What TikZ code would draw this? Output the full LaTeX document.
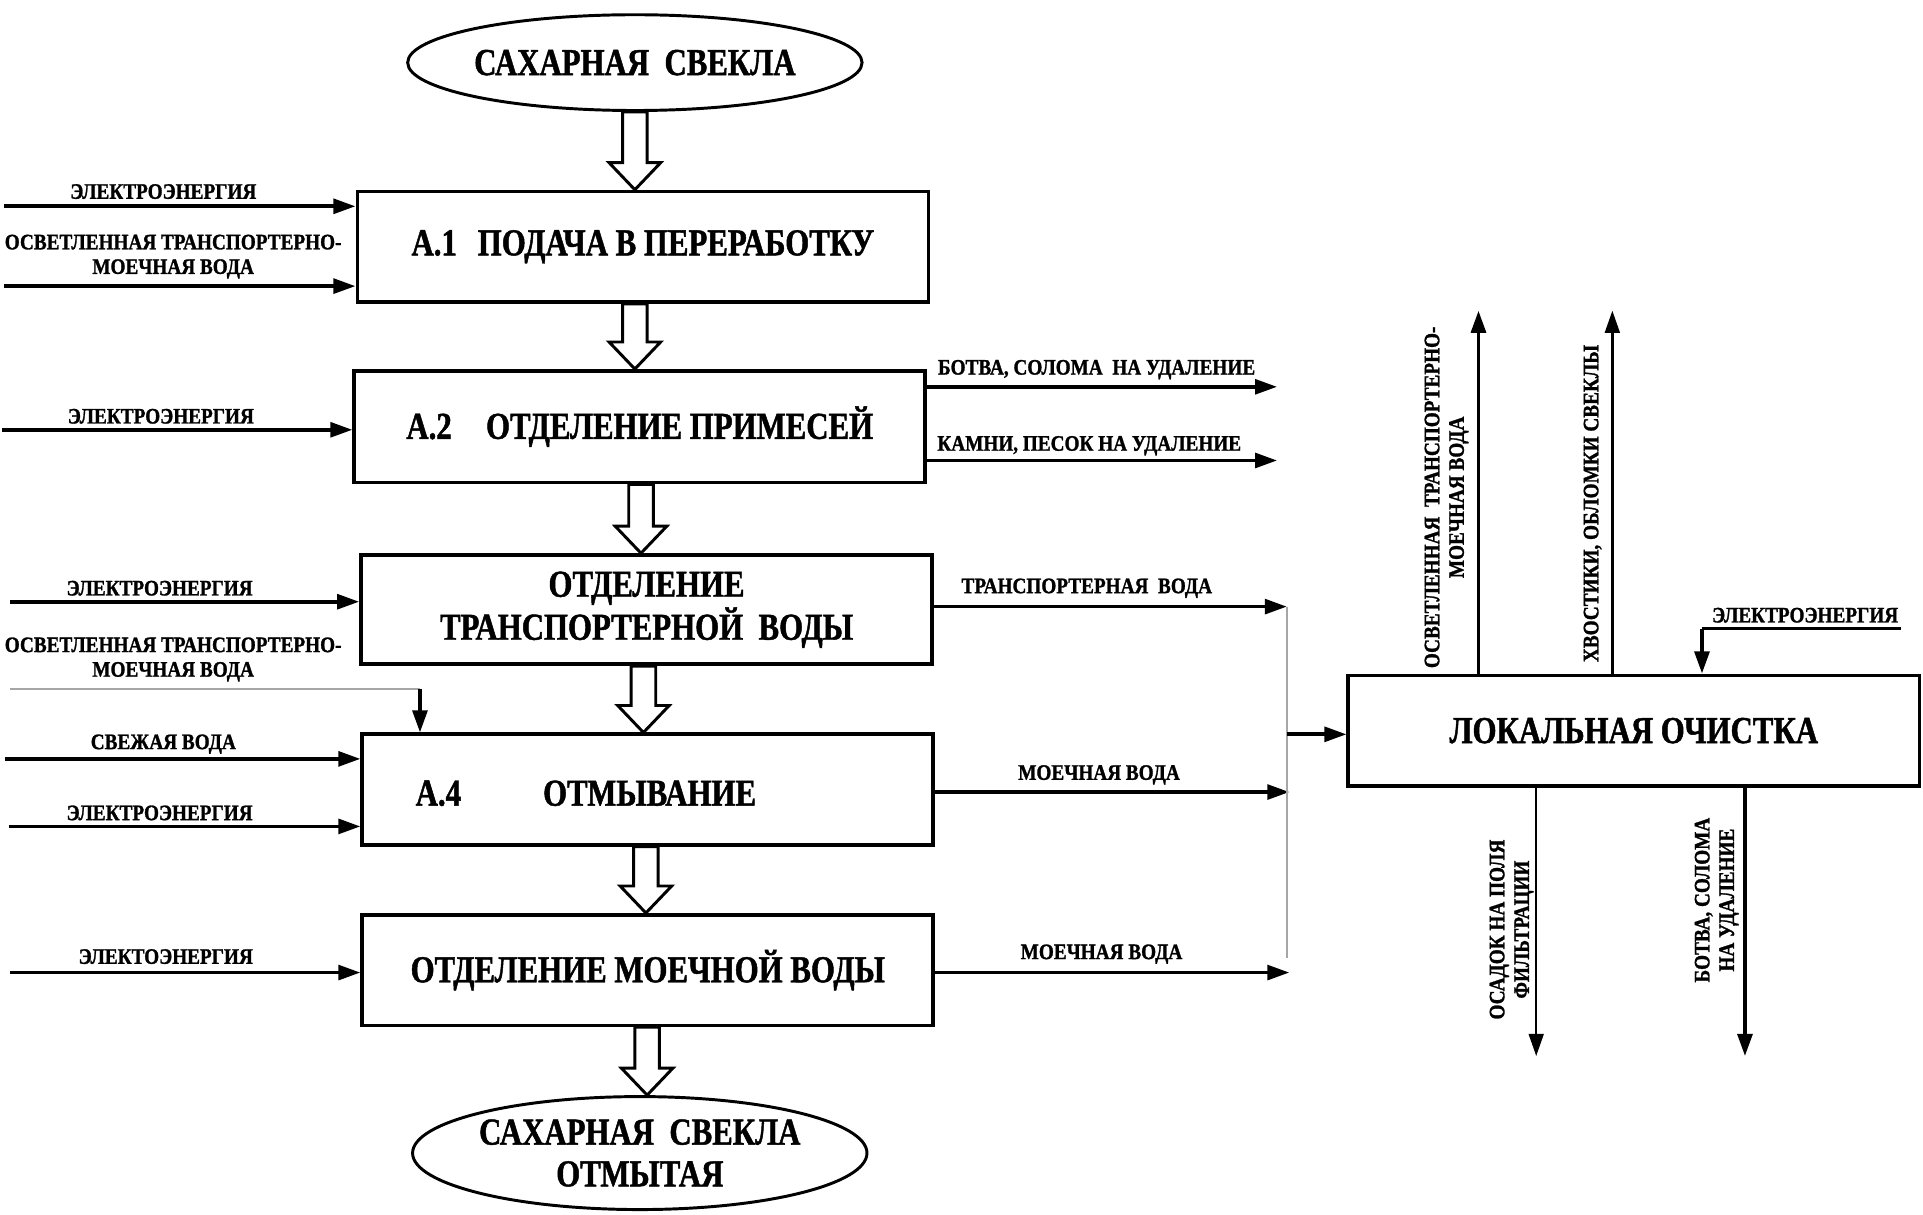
\documentclass[tikz,border=0pt]{standalone}
\usepackage{fontspec}
\setmainfont{Liberation Serif}[FakeStretch=0.81,BoldFeatures={FakeBold=1.2}]
\newfontfamily\smallf{Liberation Serif}[FakeStretch=0.87,BoldFeatures={FakeBold=1.2}]
\usetikzlibrary{arrows.meta,calc,shapes.geometric}
\newcommand\hollowarr[2]{\draw[hollow] let \p1=(#1), \p2=(#2) in
  (\x2-5pt,\y1) -- (\x2-5pt,\y2+11pt) -- (\x2-10.5pt,\y2+11pt) -- (\x2,\y2) --
  (\x2+10.5pt,\y2+11pt) -- (\x2+5pt,\y2+11pt) -- (\x2+5pt,\y1) -- cycle;}
\begin{document}
\begin{tikzpicture}[x=0.5pt,y=-0.5pt,
  proc/.style={draw,line width=1.5pt,minimum width=232.5pt,minimum height=45pt,inner sep=0pt,
    font=\fontsize{15.5}{16}\selectfont\bfseries,align=center},
  oval/.style={draw,ellipse,line width=1.2pt,inner sep=0pt,
    font=\fontsize{15.5}{17}\selectfont\bfseries,align=center},
  btxt/.style={font=\fontsize{15.5}{16}\selectfont\bfseries,inner sep=0pt},
  lbl/.style={font=\smallf\fontsize{9}{10}\selectfont\bfseries,inner sep=0pt,align=center},
  arr/.style={line width=1.5pt,-{Triangle[length=9pt,width=6pt]}},
  arrthin/.style={line width=1pt,-{Triangle[length=9pt,width=6pt]}},
  hollow/.style={draw,line width=1.2pt,fill=white,line join=miter},
  thinline/.style={gray!70,line width=0.5pt}]
\useasboundingbox[fill=white] (0,0) rectangle (1566,989);

% main chain
\node[oval,minimum width=180pt,minimum height=39pt] (top) at (517,51) {САХАРНАЯ\ \ СВЕКЛА};
\node[proc] (a1) at (523.5,201) {А.1\hspace{0.55em}ПОДАЧА В ПЕРЕРАБОТКУ};
\node[proc,minimum height=45.5pt] (a2) at (521,347.5) {А.2\hspace{0.9em}ОТДЕЛЕНИЕ ПРИМЕСЕЙ};
\node[proc,minimum height=44.5pt] (a3) at (526.5,496.5) {ОТДЕЛЕНИЕ\\ТРАНСПОРТЕРНОЙ\ \ ВОДЫ};
\node[proc] (a4) at (527.5,643) {};
\node[btxt] (a4n) at (357,646) {А.4};
\node[btxt] (a4t) at (529,646) {ОТМЫВАНИЕ};
\node[proc] (a5) at (527.5,790) {ОТДЕЛЕНИЕ МОЕЧНОЙ ВОДЫ};
\node[oval,minimum width=181pt,minimum height=46pt] (bot) at (521,939) {САХАРНАЯ\ \ СВЕКЛА\\ОТМЫТАЯ};
\node[proc] (loc) at (1330.5,595) {ЛОКАЛЬНАЯ ОЧИСТКА};

\hollowarr{top.south}{a1.north -| top.south}
\hollowarr{a1.south}{a2.north -| 517,0}
\hollowarr{a2.south}{a3.north -| 522,0}
\hollowarr{a3.south}{a4.north -| 524,0}
\hollowarr{a4.south}{a5.north -| 526,0}
\hollowarr{a5.south}{bot.north -| 527,0}

% A.1 inputs
\coordinate (l1) at (3,168);
\draw[arr] (l1) -- (l1 -| a1.west);
\node[lbl] at (133,156) {ЭЛЕКТРОЭНЕРГИЯ};
\coordinate (l2) at (3,233);
\draw[arr] (l2) -- (l2 -| a1.west);
\node[lbl] at (141,209) {ОСВЕТЛЕННАЯ ТРАНСПОРТЕРНО-\\МОЕЧНАЯ ВОДА};

% A.2
\coordinate (l3) at (2,350);
\draw[arr] (l3) -- (l3 -| a2.west);
\node[lbl] at (131,339) {ЭЛЕКТРОЭНЕРГИЯ};
\coordinate (r1) at (1040,315);
\draw[arr] (a2.east |- r1) -- (r1);
\node[lbl] at (893,301) {БОТВА, СОЛОМА\ \ НА УДАЛЕНИЕ};
\coordinate (r2) at (1040,375);
\draw[arr] (a2.east |- r2) -- (r2);
\node[lbl] at (887,363) {КАМНИ, ПЕСОК НА УДАЛЕНИЕ};

% A.3
\coordinate (l4) at (8,490);
\draw[arr] (l4) -- (l4 -| a3.west);
\node[lbl] at (130,479) {ЭЛЕКТРОЭНЕРГИЯ};
\node[lbl] at (141,537) {ОСВЕТЛЕННАЯ ТРАНСПОРТЕРНО-\\МОЕЧНАЯ ВОДА};
\coordinate (t1) at (8,561);
\coordinate (t2) at (342,561);
\draw[thinline] (t1) -- (t2);
\draw[arr] (t2) -- (t2 |- a4.north);
\coordinate (r3) at (1048,494);
\draw[arr] (a3.east |- r3) -- (r3);
\node[lbl] at (885,479) {ТРАНСПОРТЕРНАЯ\ \ ВОДА};

% A.4
\coordinate (l5) at (4,618);
\draw[arr] (l5) -- (l5 -| a4.west);
\node[lbl] at (133,606) {СВЕЖАЯ ВОДА};
\coordinate (l6) at (7,673);
\draw[arr] (l6) -- (l6 -| a4.west);
\node[lbl] at (130,662) {ЭЛЕКТРОЭНЕРГИЯ};
\coordinate (r4) at (1050,645);
\draw[arr] (a4.east |- r4) -- (r4);
\node[lbl] at (895,631) {МОЕЧНАЯ ВОДА};

% A.5
\coordinate (l7) at (8,792);
\draw[arr] (l7) -- (l7 -| a5.west);
\node[lbl] at (135,779) {ЭЛЕКТОЭНЕРГИЯ};
\coordinate (r5) at (1050,792);
\draw[arr] (a5.east |- r5) -- (r5);
\node[lbl] at (897,777) {МОЕЧНАЯ ВОДА};

% collector to local treatment
\coordinate (v1) at (1048,494);
\coordinate (v2) at (1048,780);
\draw[thinline] (v1) -- (v2);
\coordinate (m) at (1048,598);
\draw[arr] (m) -- (m -| loc.west);

% local treatment outputs
\coordinate (u1) at (1204,253);
\draw[arr] (u1 |- loc.north) -- (u1);
\node[lbl,rotate=90] at (1178,405) {ОСВЕТЛЕННАЯ\ \ ТРАНСПОРТЕРНО-\\МОЕЧНАЯ ВОДА};
\coordinate (u2) at (1313,253);
\draw[arrthin] (u2 |- loc.north) -- (u2);
\node[lbl,rotate=90] at (1297,410) {ХВОСТИКИ, ОБЛОМКИ СВЕКЛЫ};
\coordinate (e0) at (1548,512);
\coordinate (ek) at (1386,512);
\draw[line width=1pt] (e0) -- (ek);
\draw[arr] (ek) -- (ek |- loc.north);
\node[lbl] at (1470,501) {ЭЛЕКТРОЭНЕРГИЯ};
\coordinate (d1) at (1251,860);
\draw[arrthin] (d1 |- loc.south) -- (d1);
\node[lbl,rotate=90] at (1231,757) {ОСАДОК НА ПОЛЯ\\ФИЛЬТРАЦИИ};
\coordinate (d2) at (1421,860);
\draw[arr] (d2 |- loc.south) -- (d2);
\node[lbl,rotate=90] at (1398,733) {БОТВА, СОЛОМА\\НА УДАЛЕНИЕ};
\end{tikzpicture}
\end{document}
